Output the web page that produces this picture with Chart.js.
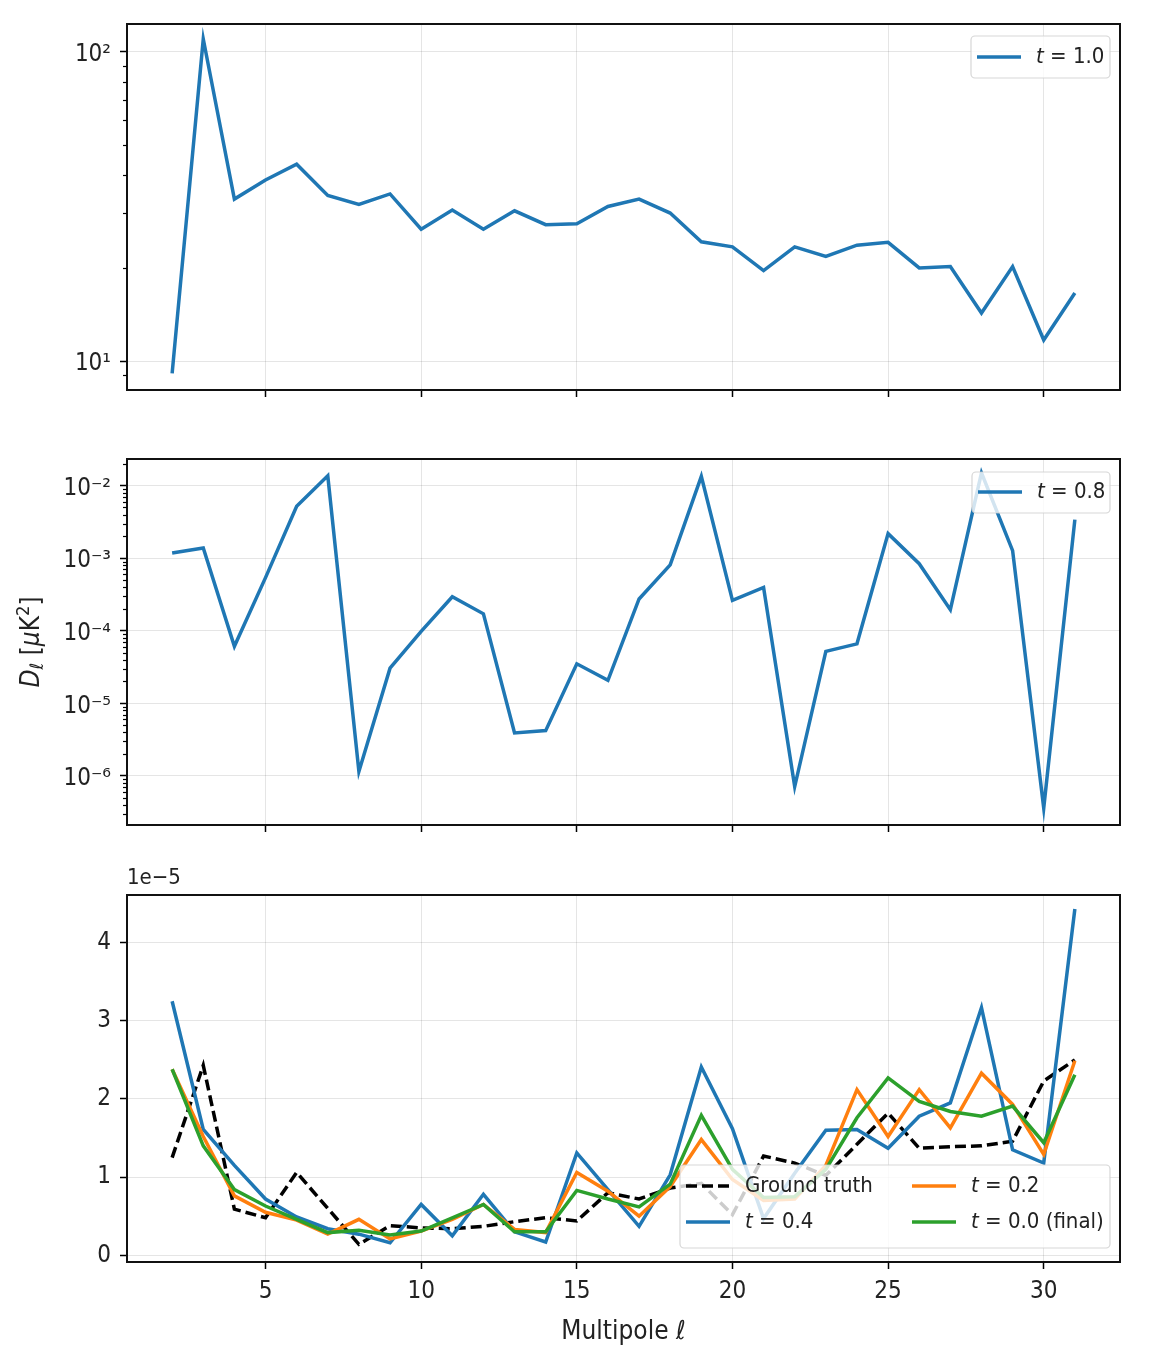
<!DOCTYPE html>
<html>
<head>
<meta charset="utf-8">
<script src="https://cdn.jsdelivr.net/npm/chart.js@4.4.1/dist/chart.umd.min.js"></script>
<style>
  body { margin: 0; background: #fff; }
  canvas { position: absolute; left: 0; }
</style>
</head>
<body>
<canvas id="topPanel" width="1150" height="420" style="top:0px"></canvas>
<canvas id="midPanel" width="1150" height="430" style="top:430px"></canvas>
<canvas id="botPanel" width="1150" height="498" style="top:860px"></canvas>
<script>
// multipoles l = 2..31
const multipoles = [2, 3, 4, 5, 6, 7, 8, 9, 10, 11, 12, 13, 14, 15, 16, 17, 18, 19, 20, 21, 22, 23, 24, 25, 26, 27, 28, 29, 30, 31];

// top panel, t = 1.0 (log scale)
const dlT10 = [9.12, 110, 33.4, 38.5, 43.3, 34.3, 32.1, 34.7, 26.7, 30.8, 26.7, 30.6, 27.6, 27.8, 31.6,
               33.4, 30.1, 24.3, 23.4, 19.6, 23.4, 21.8, 23.7, 24.2, 20.0, 20.2, 14.3, 20.2, 11.7, 16.6];

// middle panel, t = 0.8 (log scale)
const dlT08 = [1.18e-3, 1.38e-3, 6.1e-5, 5.4e-4, 5.2e-3, 1.37e-2, 1.15e-6, 3.05e-5, 9.8e-5, 2.94e-4,
               1.71e-4, 3.9e-6, 4.2e-6, 3.5e-5, 2.07e-5, 2.74e-4, 8.1e-4, 1.34e-2, 2.62e-4, 3.96e-4,
               7.1e-7, 5.2e-5, 6.6e-5, 2.18e-3, 8.4e-4, 1.95e-4, 1.5e-2, 1.27e-3, 3.6e-7, 3.4e-3];

// bottom panel, values in units of 1e-5
const groundTruth = [1.25, 2.43, 0.59, 0.48, 1.06, 0.60, 0.14, 0.38, 0.35, 0.34, 0.37, 0.43, 0.48, 0.44, 0.80,
                     0.72, 0.86, 0.92, 0.52, 1.27, 1.18, 1.02, 1.42, 1.82, 1.37, 1.39, 1.40, 1.46, 2.23, 2.50];
const dlT04 = [3.25, 1.61, 1.15, 0.72, 0.49, 0.34, 0.27, 0.16, 0.65, 0.25, 0.78, 0.30, 0.17, 1.31, 0.84,
               0.37, 1.03, 2.41, 1.62, 0.47, 1.05, 1.60, 1.61, 1.37, 1.78, 1.95, 3.17, 1.35, 1.18, 4.43];
const dlT02 = [2.38, 1.52, 0.76, 0.55, 0.45, 0.27, 0.46, 0.21, 0.31, 0.46, 0.65, 0.33, 0.29, 1.06, 0.82,
               0.50, 0.88, 1.48, 0.97, 0.70, 0.72, 1.15, 2.12, 1.52, 2.12, 1.63, 2.33, 1.93, 1.29, 2.49];
const dlT00 = [2.38, 1.40, 0.84, 0.63, 0.46, 0.29, 0.32, 0.26, 0.31, 0.48, 0.65, 0.30, 0.30, 0.83, 0.72,
               0.62, 0.91, 1.79, 1.10, 0.74, 0.75, 1.10, 1.76, 2.27, 1.97, 1.84, 1.78, 1.91, 1.44, 2.31];

// ticks
const xTicks = [5, 10, 15, 20, 25, 30];
const topTicks = [10, 100];
const topTickLabels = ['10\u00B9', '10\u00B2'];
const midTicks = [1e-6, 1e-5, 1e-4, 1e-3, 1e-2];
const midTickLabels = ['10\u207B\u2076', '10\u207B\u2075', '10\u207B\u2074', '10\u207B\u00B3', '10\u207B\u00B2'];
const botTicks = [0, 1, 2, 3, 4];
const botTickLabels = ['0', '1', '2', '3', '4'];

const FONT = '"DejaVu Sans Condensed", "Liberation Sans Narrow", "DejaVu Sans", sans-serif';
const INK = '#222';
const GRID = 'rgba(0,0,0,0.1)';
const BLUE = '#1f77b4', ORANGE = '#ff7f0e', GREEN = '#2ca02c';
const LW = 3.5;

Chart.defaults.font.family = FONT;
Chart.defaults.color = INK;

function pts(vals) {
  return vals.map((v, i) => ({ x: multipoles[i], y: v }));
}

// draws a run of text pieces with mixed styles, returns width
function drawPieces(ctx, pieces, x, y, size, measureOnly) {
  let cx = x;
  for (const p of pieces) {
    const s = size * (p.scale || 1);
    ctx.font = (p.italic ? 'italic ' : '') + s + 'px ' + FONT;
    if (!measureOnly) ctx.fillText(p.text, cx, y + (p.dy || 0));
    cx += ctx.measureText(p.text).width;
  }
  return cx - x;
}

function labelPieces(label) {
  if (label.startsWith('t ')) return [{ text: 't', italic: true }, { text: label.slice(1) }];
  return [{ text: label }];
}

const framePlugin = {
  id: 'frame',
  afterDraw(chart) {
    const a = chart.chartArea, ctx = chart.ctx;
    ctx.save();
    ctx.strokeStyle = '#111';
    ctx.lineWidth = 2;
    ctx.strokeRect(a.left, a.top, a.right - a.left, a.bottom - a.top);
    // minor ticks on log axes
    const y = chart.scales.y;
    if (y.type === 'logarithmic') {
      ctx.lineWidth = 1.2;
      ctx.strokeStyle = '#000';
      for (let k = Math.floor(Math.log10(y.min)); k <= Math.ceil(Math.log10(y.max)); k++) {
        for (let m = 2; m <= 9; m++) {
          const v = m * Math.pow(10, k);
          if (v <= y.min || v >= y.max) continue;
          const py = Math.round(y.getPixelForValue(v)) + 0.5;
          ctx.beginPath();
          ctx.moveTo(a.left - 4, py);
          ctx.lineTo(a.left, py);
          ctx.stroke();
        }
      }
    }
    ctx.restore();
  }
};

const boxLegend = {
  id: 'boxLegend',
  afterDatasetsDraw(chart, args, opts) {
    if (!opts || !opts.items) return;
    const a = chart.chartArea, ctx = chart.ctx;
    const left = a.right - opts.right - opts.width;
    const top = opts.bottom !== undefined ? a.bottom - opts.bottom - opts.height : a.top + opts.top;
    ctx.save();
    ctx.beginPath();
    ctx.roundRect(left, top, opts.width, opts.height, 4);
    ctx.fillStyle = 'rgba(255,255,255,0.8)';
    ctx.fill();
    ctx.strokeStyle = 'rgba(204,204,204,0.8)';
    ctx.lineWidth = 1.2;
    ctx.stroke();
    for (const it of opts.items) {
      const ds = chart.data.datasets[it.ds];
      const yy = top + it.y;
      ctx.strokeStyle = ds.borderColor;
      ctx.lineWidth = ds.borderWidth;
      ctx.setLineDash(ds.borderDash || []);
      ctx.beginPath();
      ctx.moveTo(left + it.x, yy);
      ctx.lineTo(left + it.x + 44, yy);
      ctx.stroke();
      ctx.setLineDash([]);
      ctx.fillStyle = INK;
      ctx.textBaseline = 'middle';
      ctx.textAlign = 'left';
      drawPieces(ctx, labelPieces(ds.label), left + it.x + 59, yy, opts.fontSize);
    }
    ctx.restore();
  }
};

const extraText = {
  id: 'extraText',
  afterDraw(chart, args, opts) {
    const a = chart.chartArea, ctx = chart.ctx;
    ctx.save();
    ctx.fillStyle = INK;
    if (opts.offsetText) {
      ctx.font = '22px ' + FONT;
      ctx.textBaseline = 'bottom';
      ctx.textAlign = 'left';
      ctx.fillText(opts.offsetText, a.left, a.top - 6);
    }
    if (opts.yTitle) {
      const pieces = [
        { text: 'D', italic: true },
        { text: '\u2113', italic: true, scale: 0.7, dy: 6 },
        { text: ' [' },
        { text: '\u03BC', italic: true },
        { text: 'K' },
        { text: '2', scale: 0.7, dy: -8 },
        { text: ']' }
      ];
      ctx.translate(32, (a.top + a.bottom) / 2);
      ctx.rotate(-Math.PI / 2);
      ctx.textBaseline = 'middle';
      ctx.textAlign = 'left';
      const w = drawPieces(ctx, pieces, 0, 0, 26, true);
      drawPieces(ctx, pieces, -w / 2, 0, 26);
    }
    ctx.restore();
  }
};

function xScale(showLabels, axisHeight) {
  return {
    type: 'linear', min: 0.55, max: 32.45, bounds: 'data',
    afterBuildTicks: s => { s.ticks = xTicks.map(v => ({ value: v })); },
    afterFit: s => { s.height = axisHeight; },
    grid: { color: GRID, lineWidth: 1, drawTicks: true, tickLength: 7, tickColor: '#000', tickWidth: 1.5 },
    border: { display: false },
    ticks: {
      padding: 8, color: INK, font: { size: 24 }, maxRotation: 0, autoSkip: false,
      callback: v => showLabels ? String(v) : ''
    },
    title: {
      display: showLabels, text: 'Multipole \u2113', color: INK,
      font: { size: 26 }, padding: { top: 0, bottom: 10 }
    }
  };
}

function yScale(type, min, max, ticks, labels, labelOffset) {
  return {
    type: type, min: min, max: max, bounds: 'data',
    afterBuildTicks: s => { s.ticks = ticks.map(v => ({ value: v })); },
    afterFit: s => { s.width = 127; },
    grid: { color: GRID, lineWidth: 1, drawTicks: true, tickLength: 7, tickColor: '#000', tickWidth: 1.5 },
    border: { display: false },
    ticks: {
      padding: 9, color: INK, font: { size: 24 }, labelOffset: labelOffset,
      callback: v => {
        const i = ticks.findIndex(t => Math.abs(t - v) <= Math.abs(t) * 1e-6 + 1e-12);
        return i >= 0 ? labels[i] : '';
      }
    }
  };
}

function lineSet(label, vals, color, order, dash) {
  return {
    label: label, data: pts(vals), borderColor: color, backgroundColor: color,
    borderWidth: LW, borderDash: dash || [], pointRadius: 0, tension: 0, fill: false,
    order: order
  };
}

function baseOptions(padTop, scales, legendOpts, extra) {
  return {
    responsive: false, animation: false, devicePixelRatio: 1,
    layout: { padding: { top: padTop, right: 30, left: 0, bottom: 0 } },
    scales: scales,
    plugins: {
      legend: { display: false },
      tooltip: { enabled: false },
      boxLegend: legendOpts,
      extraText: extra || {}
    }
  };
}

const plugins = [framePlugin, boxLegend, extraText];

new Chart(document.getElementById('topPanel'), {
  type: 'line',
  data: { datasets: [lineSet('t = 1.0', dlT10, BLUE, 0)] },
  options: baseOptions(24, {
    x: xScale(false, 30),
    y: yScale('logarithmic', 8.06, 123, topTicks, topTickLabels, 3)
  }, { right: 10, top: 12, width: 139, height: 42, fontSize: 22, items: [{ ds: 0, x: 6, y: 21 }] }),
  plugins: plugins
});

new Chart(document.getElementById('midPanel'), {
  type: 'line',
  data: { datasets: [lineSet('t = 0.8', dlT08, BLUE, 0)] },
  options: baseOptions(29, {
    x: xScale(false, 35),
    y: yScale('logarithmic', 2.1e-7, 0.0233, midTicks, midTickLabels, 3)
  }, { right: 10, top: 13, width: 138, height: 41, fontSize: 22, items: [{ ds: 0, x: 6, y: 20 }] },
  { yTitle: true }),
  plugins: plugins
});

new Chart(document.getElementById('botPanel'), {
  type: 'line',
  data: {
    datasets: [
      lineSet('Ground truth', groundTruth, '#000', 3, [11, 5]),
      lineSet('t = 0.4', dlT04, BLUE, 2),
      lineSet('t = 0.2', dlT02, ORANGE, 1),
      lineSet('t = 0.0 (final)', dlT00, GREEN, 0)
    ]
  },
  options: baseOptions(35, {
    x: xScale(true, 96),
    y: yScale('linear', -0.086, 4.61, botTicks, botTickLabels, 0)
  }, {
    right: 10, bottom: 14, width: 430, height: 83, fontSize: 22,
    items: [
      { ds: 0, x: 6, y: 21 }, { ds: 1, x: 6, y: 57 },
      { ds: 2, x: 232, y: 21 }, { ds: 3, x: 232, y: 57 }
    ]
  }, { offsetText: '1e\u22125' }),
  plugins: plugins
});
</script>
</body>
</html>
